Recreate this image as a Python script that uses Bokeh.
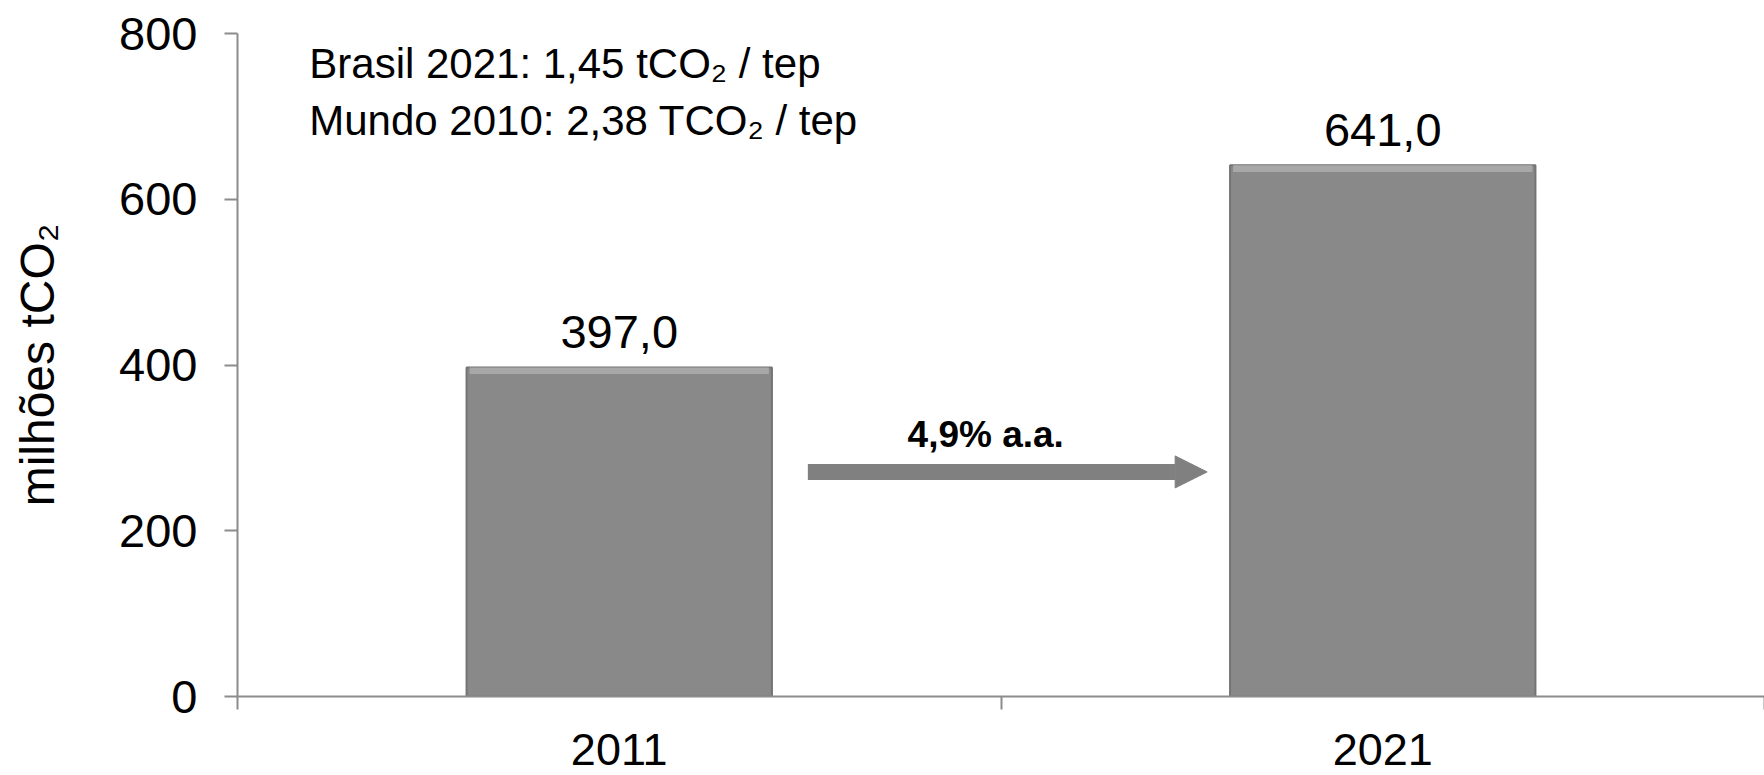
from bokeh.plotting import figure
from bokeh.models import Range1d, FixedTicker, LabelSet, Label, ColumnDataSource, Arrow, NormalHead
from bokeh.core.properties import value
from bokeh.embed import file_html
from bokeh.resources import INLINE

# ---- data ----
categories = ["2011", "2021"]
emissions = [397.0, 641.0]
y_ticks = [0, 200, 400, 600, 800]
note_lines = ["Brasil 2021: 1,45 tCO\u2082 / tep", "Mundo 2010: 2,38 TCO\u2082 / tep"]
growth_label = "4,9% a.a."
y_label = "milhões tCO\u2082"

FONT = "Liberation Sans"
GRAY = "#898989"
AXIS_GRAY = "#8c8c8c"

xpos = [i + 0.5 for i in range(len(categories))]
value_text = [f"{v:.1f}".replace(".", ",") for v in emissions]
bevel_bottom = [v - 8 for v in emissions]

src = ColumnDataSource(dict(x=xpos, top=emissions, bev=bevel_bottom, label=value_text))

p = figure(width=1764, height=775, output_backend="svg", toolbar_location=None,
           x_range=Range1d(0, len(categories)), y_range=Range1d(0, 800),
           min_border_left=237, min_border_right=0, min_border_top=33, min_border_bottom=79)
p.outline_line_color = None
p.xgrid.visible = False
p.ygrid.visible = False
p.background_fill_color = "white"
p.border_fill_color = "white"

# bars with a simple bevel look
p.vbar(x="x", top="top", bottom=0, width=0.40, source=src,
       fill_color=GRAY, line_color="#747474", line_width=2)
p.vbar(x="x", top="top", bottom="bev", width=0.392, source=src,
       fill_color="#a8a8a8", line_color=None)

# value labels
p.add_layout(LabelSet(x="x", y="top", text="label", source=src, y_offset=19,
                      text_align="center", text_baseline="alphabetic",
                      text_font=value(FONT), text_font_size=value("47px"),
                      text_color=value("black")))

# y axis
ya = p.yaxis[0]
ya.ticker = FixedTicker(ticks=y_ticks)
ya.axis_line_color = AXIS_GRAY
ya.axis_line_width = 2
ya.major_tick_line_color = AXIS_GRAY
ya.major_tick_line_width = 2
ya.major_tick_in = 0
ya.major_tick_out = 13
ya.minor_tick_line_color = None
ya.major_label_text_font = FONT
ya.major_label_text_font_size = "47px"
ya.major_label_text_color = "black"
ya.major_label_standoff = 27
ya.axis_label = y_label
ya.axis_label_text_font = FONT
ya.axis_label_text_font_size = "48px"
ya.axis_label_text_font_style = "normal"
ya.axis_label_text_color = "black"
ya.axis_label_standoff = 52

# x axis
xa = p.xaxis[0]
xa.ticker = FixedTicker(ticks=xpos, minor_ticks=list(range(len(categories) + 1)))
xa.major_label_overrides = {x: c for x, c in zip(xpos, categories)}
xa.axis_line_color = AXIS_GRAY
xa.axis_line_width = 2
xa.major_tick_line_color = None
xa.major_tick_in = 0
xa.major_tick_out = 0
xa.minor_tick_line_color = AXIS_GRAY
xa.minor_tick_line_width = 2
xa.minor_tick_in = 0
xa.minor_tick_out = 13
xa.major_label_text_font = FONT
xa.major_label_text_font_size = "45px"
xa.major_label_text_color = "black"
xa.major_label_standoff = 24

# notes
for i, line in enumerate(note_lines):
    p.add_layout(Label(x=0.094, y=764 - 69 * i, text=line, text_font=FONT,
                       text_font_size="42px", text_color="black",
                       text_align="left", text_baseline="alphabetic"))

# growth arrow
p.add_layout(Arrow(x_start=0.747, y_start=271, x_end=1.270, y_end=271,
                   line_width=16, line_color="#808080",
                   end=NormalHead(size=32, fill_color="#808080", line_color="#808080")))
p.add_layout(Label(x=0.98, y=316, text=growth_label, text_font=FONT,
                   text_font_size="37px", text_font_style="bold", text_color="black",
                   text_align="center", text_baseline="middle"))

open("out.html", "w").write(file_html(p, INLINE))
